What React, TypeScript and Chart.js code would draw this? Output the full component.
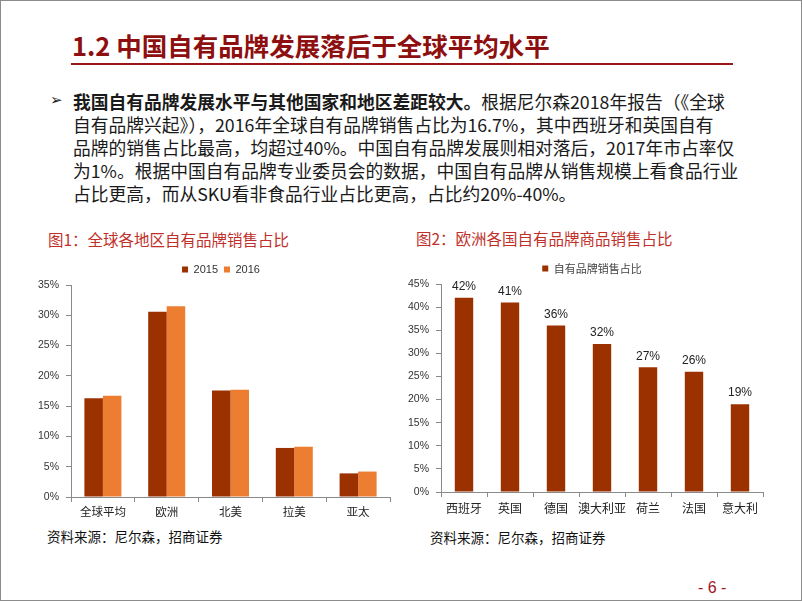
import React, { useEffect, useRef } from "react";
import { Chart, registerables } from "chart.js";
Chart.register(...registerables);

// ---------- data ----------
const regions = ["全球平均", "欧洲", "北美", "拉美", "亚太"];
const share2015 = [16.3, 30.6, 17.6, 8.1, 3.9];
const share2016 = [16.7, 31.5, 17.7, 8.3, 4.2];
const seriesNames = ["2015", "2016"];

const countries = ["西班牙", "英国", "德国", "澳大利亚", "荷兰", "法国", "意大利"];
const countryShare = [42, 41, 36, 32, 27, 26, 19];
const countrySeriesName = "自有品牌销售占比";

const CJK = '"Noto Sans CJK SC", "Noto Sans", sans-serif';
const NUM = '"Liberation Sans", Arial, sans-serif';
const AXIS = "#8a8a8a";
const DARK = "#9c3100";
const ORANGE = "#ed7d31";

const valueLabels = {
  id: "valueLabels",
  afterDatasetsDraw(chart: any) {
    const ctx = chart.ctx;
    chart.data.datasets.forEach((ds: any, i: number) => {
      const meta = chart.getDatasetMeta(i);
      meta.data.forEach((bar: any, j: number) => {
        ctx.save();
        ctx.font = `12px ${NUM}`;
        ctx.fillStyle = "#222";
        ctx.textAlign = "center";
        ctx.textBaseline = "middle";
        ctx.fillText(ds.data[j] + "%", bar.x, bar.y - 11);
        ctx.restore();
      });
    });
  },
};

// moves the legend sideways so that it sits where the reference places it
const legendShift = (dx: number) => ({
  id: "legendShift",
  afterLayout(chart: any) {
    const lg = chart.legend;
    if (lg) {
      lg.left += dx;
      lg.right += dx;
    }
  },
});

function yAxis(max: number) {
  return {
    min: 0,
    max,
    ticks: {
      stepSize: 5,
      callback: (v: any) => v + "%",
      color: "#333",
      font: { family: NUM, size: 10.5 },
      padding: 7,
    },
    grid: { drawOnChartArea: false, drawTicks: true, tickLength: 5, color: AXIS },
    border: { display: true, color: AXIS },
    afterFit: (s: any) => {
      s.width = 40;
    },
  };
}

function xAxis(height: number, size: number, pad: number) {
  return {
    ticks: { color: "#222", font: { family: CJK, size }, padding: pad, maxRotation: 0, autoSkip: false },
    grid: { drawOnChartArea: false, drawTicks: true, tickLength: 5, color: AXIS, offset: true },
    border: { display: true, color: AXIS },
    afterFit: (s: any) => {
      s.height = height;
    },
  };
}

function ChartBox({ make, left, top, width, height }: any) {
  const ref = useRef<HTMLCanvasElement>(null);
  useEffect(() => {
    const chart = new Chart(ref.current as HTMLCanvasElement, make());
    return () => chart.destroy();
  }, []);
  return (
    <div style={{ position: "absolute", left, top, width, height }}>
      <canvas ref={ref} width={width} height={height} style={{ width, height, display: "block" }} />
    </div>
  );
}

const chart1 = (): any => ({
  type: "bar",
  data: {
    labels: regions,
    datasets: [
      { label: seriesNames[0], data: share2015, backgroundColor: DARK, categoryPercentage: 0.58, barPercentage: 1 },
      { label: seriesNames[1], data: share2016, backgroundColor: ORANGE, categoryPercentage: 0.58, barPercentage: 1 },
    ],
  },
  plugins: [legendShift(10.5)],
  options: {
    responsive: false,
    animation: false,
    layout: { padding: { left: 0, right: 11, top: 2, bottom: 0 } },
    plugins: {
      legend: {
        position: "top",
        labels: { boxWidth: 6, boxHeight: 6, padding: 6, color: "#333", font: { family: NUM, size: 11 } },
      },
      tooltip: { enabled: false },
    },
    scales: { x: xAxis(29, 11.5, 3), y: yAxis(35) },
  },
});

const chart2 = (): any => ({
  type: "bar",
  data: {
    labels: countries,
    datasets: [
      { label: countrySeriesName, data: countryShare, backgroundColor: DARK, categoryPercentage: 1, barPercentage: 0.4 },
    ],
  },
  plugins: [valueLabels, legendShift(10)],
  options: {
    responsive: false,
    animation: false,
    layout: { padding: { left: 0, right: 18, top: 1, bottom: 0 } },
    plugins: {
      legend: {
        position: "top",
        labels: { boxWidth: 6, boxHeight: 6, padding: 6, color: "#444", font: { family: CJK, size: 11 } },
      },
      tooltip: { enabled: false },
    },
    scales: { x: xAxis(34, 12, 4), y: yAxis(45) },
  },
});

export default function App() {
  const red = "#8e0f0f";
  const lineStyle: React.CSSProperties = { whiteSpace: "nowrap" };
  return (
    <div
      style={{
        position: "absolute",
        left: 0,
        top: 0,
        width: 802,
        height: 601,
        boxSizing: "border-box",
        border: "1px solid #8c8c8c",
        background: "#fff",
        overflow: "hidden",
        fontFamily: CJK,
      }}
    >
      <div
        style={{
          position: "absolute",
          left: 71,
          top: 28,
          fontSize: 25.5,
          lineHeight: "32px",
          fontWeight: 700,
          color: red,
          whiteSpace: "nowrap",
        }}
      >
        1.2 中国自有品牌发展落后于全球平均水平
      </div>
      <div style={{ position: "absolute", left: 70, top: 62, width: 662, height: 2, background: "#9b1616" }} />

      <div style={{ position: "absolute", left: 49, top: 89, fontSize: 15, lineHeight: "20px", fontFamily: '"DejaVu Sans", sans-serif', color: "#222" }}>
        ➢
      </div>
      <div
        style={{
          position: "absolute",
          left: 72,
          top: 88.5,
          fontSize: 17.75,
          lineHeight: "23px",
          color: "#1a1a1a",
        }}
      >
        <div style={lineStyle}>
          <b>我国自有品牌发展水平与其他国家和地区差距较大。</b>根据尼尔森2018年报告（《全球
        </div>
        <div style={lineStyle}>自有品牌兴起》），2016年全球自有品牌销售占比为16.7%，其中西班牙和英国自有</div>
        <div style={lineStyle}>品牌的销售占比最高，均超过40%。中国自有品牌发展则相对落后，2017年市占率仅</div>
        <div style={lineStyle}>为1%。根据中国自有品牌专业委员会的数据，中国自有品牌从销售规模上看食品行业</div>
        <div style={lineStyle}>占比更高，而从SKU看非食品行业占比更高，占比约20%-40%。</div>
      </div>

      <div style={{ position: "absolute", left: 47, top: 227, fontSize: 15.5, lineHeight: "22px", color: "#c0302a", whiteSpace: "nowrap" }}>
        图1：全球各地区自有品牌销售占比
      </div>
      <div style={{ position: "absolute", left: 415, top: 226, fontSize: 15.5, lineHeight: "22px", color: "#c0302a", whiteSpace: "nowrap" }}>
        图2：欧洲各国自有品牌商品销售占比
      </div>

      <ChartBox make={chart1} left={30} top={255} width={370} height={270} />
      <ChartBox make={chart2} left={400} top={255} width={380} height={270} />

      <div style={{ position: "absolute", left: 46, top: 525, fontSize: 13.5, lineHeight: "20px", color: "#111", whiteSpace: "nowrap" }}>
        资料来源：尼尔森，招商证券
      </div>
      <div style={{ position: "absolute", left: 429, top: 526, fontSize: 13.5, lineHeight: "20px", color: "#111", whiteSpace: "nowrap" }}>
        资料来源：尼尔森，招商证券
      </div>

      <div style={{ position: "absolute", left: 697, top: 577, fontSize: 16, lineHeight: "20px", fontFamily: NUM, color: "#a0141e", whiteSpace: "nowrap" }}>
        - 6 -
      </div>
    </div>
  );
}
